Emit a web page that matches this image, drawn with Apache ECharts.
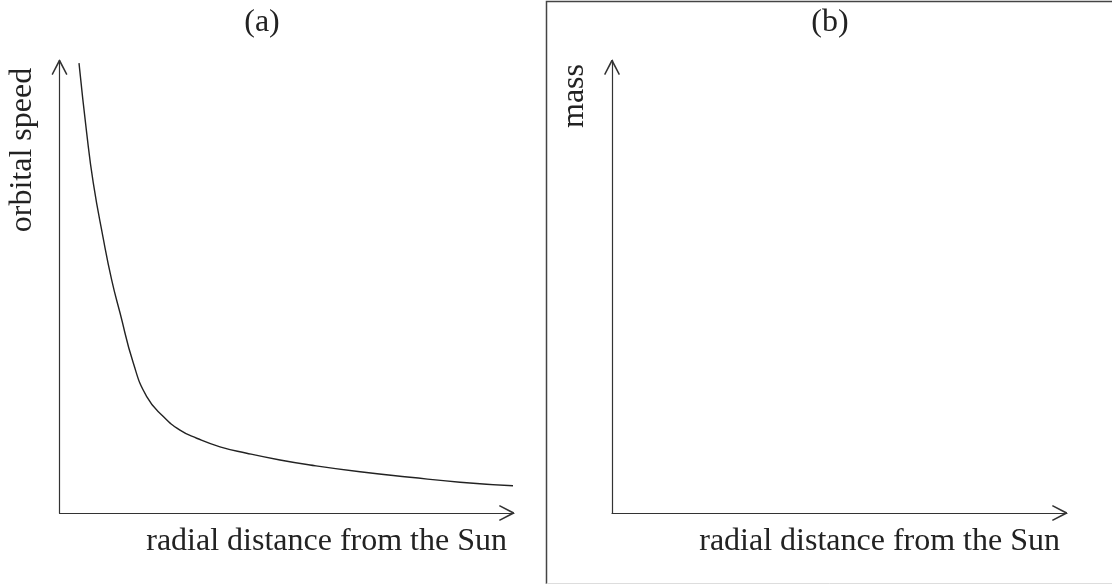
<!DOCTYPE html>
<html>
<head>
<meta charset="utf-8">
<script src="https://cdn.jsdelivr.net/npm/echarts/dist/echarts.min.js"></script>
<style>
html,body{margin:0;padding:0;background:#fff;}
#c{width:1112px;height:584px;}
</style>
</head>
<body>
<div id="c"></div>
<script>
// Panel titles and axis names
const panelTitles = ['(a)', '(b)'];
const yAxisNames = ['orbital speed', 'mass'];
const xAxisNames = ['radial distance from the Sun', 'radial distance from the Sun'];

// Curve in panel (a): radial distance (x, % of axis) vs orbital speed (y, % of axis)
const distance = [4.29, 5.98, 7.44, 9.57, 11.49, 13.31, 16.24, 19.19, 22.84, 26.51, 30.19, 35.31, 41.19, 48.51, 55.12, 66.12, 77.12, 88.12, 99.78];
const speed    = [99.3, 83.9, 72.8, 60.9, 51.4, 44.2, 33.1, 25.7, 21.3, 18.3, 16.5, 14.6, 13.2, 11.7, 10.6, 9.1, 7.9, 6.8, 6.0];

const FONT = 'Liberation Serif';
const INK = '#222';
const AXIS = '#333';
const chevron = 'path://M7.3,0 L8.7,0 L16,14.3 L14.7,15 L8,2.3 L1.3,15 L0,14.3 Z';

function axisLine() {
  return {
    show: true,
    symbol: ['none', chevron],
    symbolSize: [16, 15],
    symbolOffset: [0, -7.5],
    lineStyle: { color: AXIS, width: 1.2 }
  };
}
function xAxis(i) {
  return {
    type: 'value', gridIndex: i, min: 0, max: 100,
    name: xAxisNames[i], nameLocation: 'end', nameGap: -7,
    nameMoveOverlap: false,
    nameTextStyle: { fontFamily: FONT, fontSize: 32, color: INK, align: 'right', verticalAlign: 'top', padding: [13, 0, 0, 0] },
    axisLine: axisLine(), axisTick: { show: false }, axisLabel: { show: false }, splitLine: { show: false }
  };
}
function yAxis(i, shift) {
  return {
    type: 'value', gridIndex: i, min: 0, max: 100,
    name: yAxisNames[i], nameLocation: 'middle', nameGap: 21,
    nameMoveOverlap: false,
    nameTextStyle: { fontFamily: FONT, fontSize: 32, color: INK, padding: [0, 0, 0, shift] },
    axisLine: axisLine(), axisTick: { show: false }, axisLabel: { show: false }, splitLine: { show: false }
  };
}

const chart = echarts.init(document.getElementById('c'), null, { renderer: 'canvas' });
chart.setOption({
  animation: false,
  backgroundColor: '#fff',
  title: [
    { text: panelTitles[0], left: 262, top: 7, textAlign: 'center', padding: 0, textStyle: { fontFamily: FONT, fontSize: 32, fontWeight: 'normal', color: INK } },
    { text: panelTitles[1], left: 830, top: 7, textAlign: 'center', padding: 0, textStyle: { fontFamily: FONT, fontSize: 32, fontWeight: 'normal', color: INK } }
  ],
  grid: [
    { left: 59.5, top: 60, width: 454.5, height: 453, containLabel: false, outerBoundsMode: 'none' },
    { left: 612, top: 60, width: 455, height: 453, containLabel: false, outerBoundsMode: 'none' }
  ],
  xAxis: [xAxis(0), xAxis(1)],
  yAxis: [yAxis(0, 273), yAxis(1, 381)],
  graphic: [
    { type: 'polyline', silent: true, shape: { points: [[546.5, 584], [546.5, 1.5], [1113, 1.5]] }, style: { stroke: '#444', lineWidth: 1.5, fill: null } },
    { type: 'line', silent: true, shape: { x1: 546.5, y1: 583.5, x2: 1113, y2: 583.5 }, style: { stroke: '#ddd', lineWidth: 1 } }
  ],
  series: [{
    type: 'line', xAxisIndex: 0, yAxisIndex: 0,
    data: distance.map((d, k) => [d, speed[k]]),
    showSymbol: false, smooth: 0.5,
    lineStyle: { color: INK, width: 1.4 },
    silent: true
  }]
});
</script>
</body>
</html>
